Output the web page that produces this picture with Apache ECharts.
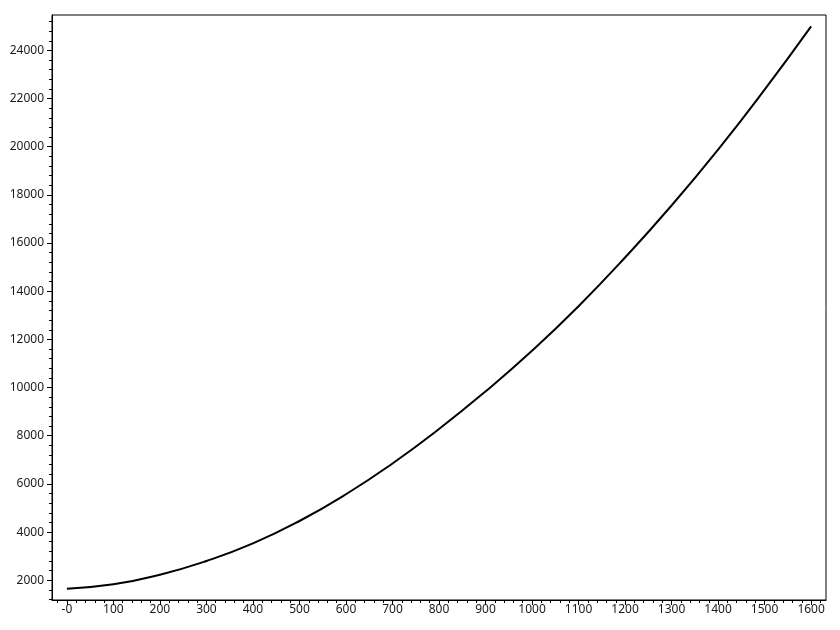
<!DOCTYPE html>
<html>
<head>
<meta charset="utf-8">
<script src="https://cdn.jsdelivr.net/npm/echarts@6/dist/echarts.min.js"></script>
<style>
  html, body { margin: 0; padding: 0; background: #fff; }
  #chart { width: 840px; height: 630px; }
</style>
</head>
<body>
<div id="chart"></div>
<script>
// values
var xValues = [0, 100, 200, 300, 400, 500, 600, 700, 800, 900, 1000, 1100, 1200, 1300, 1400, 1500, 1600];
var yValues = [1650, 1830, 2230, 2800, 3530, 4460, 5570, 6850, 8280, 9840, 11530, 13380, 15400, 17560, 19880, 22370, 25000];

// major tick positions
var xTicks = [0, 100, 200, 300, 400, 500, 600, 700, 800, 900, 1000, 1100, 1200, 1300, 1400, 1500, 1600];
var yTicks = [2000, 4000, 6000, 8000, 10000, 12000, 14000, 16000, 18000, 20000, 22000, 24000];

var ink = '#000';
var labelColor = '#1a1a1a';

var chart = echarts.init(document.getElementById('chart'), null, { renderer: 'canvas' });

var points = xValues.map(function(x, i) { return [x, yValues[i]]; });

chart.setOption({
  animation: false,
  grid: {
    left: 52, right: 14, top: 15, bottom: 30,
    show: true,
    borderColor: ink,
    borderWidth: 1,
    backgroundColor: 'transparent'
  },
  xAxis: {
    type: 'value',
    min: -32,
    max: 1632,
    splitNumber: 16,
    minInterval: 100,
    maxInterval: 100,
    axisLine: { show: true, onZero: false, lineStyle: { color: ink, width: 1 } },
    axisTick: { show: true, length: 5, customValues: xTicks, lineStyle: { color: ink } },
    minorTick: { show: true, splitNumber: 5, length: 3, lineStyle: { color: ink } },
    splitLine: { show: false },
    axisLabel: {
      customValues: xTicks,
      margin: 4,
      color: labelColor,
      fontFamily: 'Noto Sans',
      fontSize: 12,
      formatter: function(v) { return v === 0 ? '-0' : String(v); }
    }
  },
  yAxis: {
    type: 'value',
    min: 1180,
    max: 25470,
    splitNumber: 12,
    minInterval: 2000,
    maxInterval: 2000,
    axisLine: { show: true, onZero: false, lineStyle: { color: ink, width: 1 } },
    axisTick: { show: true, length: 5, customValues: yTicks, lineStyle: { color: ink } },
    minorTick: { show: true, splitNumber: 5, length: 3, lineStyle: { color: ink } },
    splitLine: { show: false },
    axisLabel: {
      customValues: yTicks,
      margin: 8,
      color: labelColor,
      fontFamily: 'Noto Sans',
      fontSize: 12,
      formatter: function(v) { return String(v); }
    }
  },
  series: [{
    type: 'line',
    data: points,
    smooth: true,
    showSymbol: false,
    lineStyle: { color: ink, width: 2 }
  }]
});
</script>
</body>
</html>
